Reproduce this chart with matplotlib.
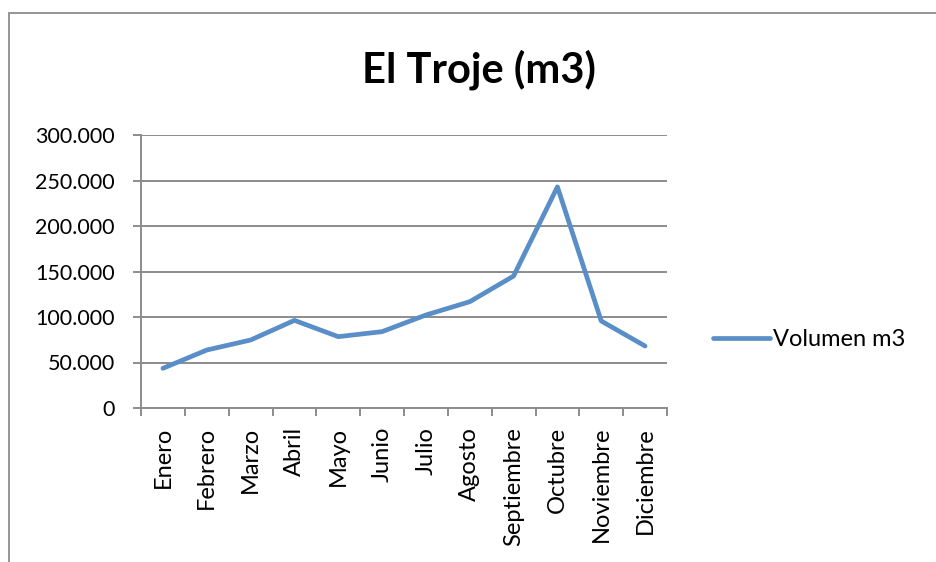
import matplotlib
matplotlib.use('Agg')
import matplotlib.pyplot as plt
from matplotlib.patches import Rectangle
from matplotlib.ticker import FuncFormatter, FixedLocator
import numpy as np

# Data
months = ['Enero', 'Febrero', 'Marzo', 'Abril', 'Mayo', 'Junio', 'Julio',
          'Agosto', 'Septiembre', 'Octubre', 'Noviembre', 'Diciembre']
volumen = [43600, 63700, 74700, 96300, 78400, 83900, 102200,
           116800, 145000, 243000, 95600, 68100]
series_name = 'Volumen m3'
title = 'El Troje (m3)'

plt.rcParams['font.family'] = ['Lato', 'DejaVu Sans']

W, H = 936, 562
fig = plt.figure(figsize=(W/100, H/100), dpi=100)
ax = fig.add_axes([141/W, 1 - 408/H, (667 - 141)/W, (408 - 135)/H])

# outer chart frame (partly off the image, as in the reference)
fig.patches.append(Rectangle((9/W, -0.1), 1.2, 1 - 13/H + 0.1,
                             transform=fig.transFigure, fill=False,
                             edgecolor='#8c8c8c', linewidth=1.3))

x = np.arange(len(months))
ax.plot(x, volumen, color='#5A8EC8', linewidth=3.4, solid_capstyle='round',
        label=series_name, zorder=3)

ax.set_xlim(-0.5, len(months) - 0.5)
ax.set_ylim(0, 300000)
ax.set_yticks(np.arange(0, 300001, 50000))
ax.yaxis.set_major_formatter(FuncFormatter(
    lambda v, p: '0' if v == 0 else f'{int(v):,}'.replace(',', '.')))
ax.grid(axis='y', color='#8c8c8c', linewidth=1.4)
ax.set_axisbelow(True)

# category labels centred, tick marks between categories
ax.set_xticks(x)
ax.set_xticklabels(months, rotation=90, fontsize=17)
ax.tick_params(axis='x', which='major', length=0, pad=13.5)
ax.xaxis.set_minor_locator(FixedLocator(np.arange(-0.5, len(months), 1)))
ax.tick_params(axis='x', which='minor', length=6, width=1.4, color='#8c8c8c')
ax.tick_params(axis='y', length=6, width=1.4, color='#8c8c8c', labelsize=15.5,
               pad=13)

for s in ['top', 'right']:
    ax.spines[s].set_visible(False)
for s in ['left', 'bottom']:
    ax.spines[s].set_color('#8c8c8c')
    ax.spines[s].set_linewidth(1.4)

fig.text(479/W, 1 - 83/H, title, ha='center', va='baseline',
         fontsize=30, fontweight='bold')

ax.legend(loc='center left', bbox_to_anchor=(713/W, 1 - 340/H),
          bbox_transform=fig.transFigure, frameon=False, borderpad=0,
          borderaxespad=0, fontsize=17, handlelength=2.4, handletextpad=0.15)

fig.savefig('out.png', dpi=100)
